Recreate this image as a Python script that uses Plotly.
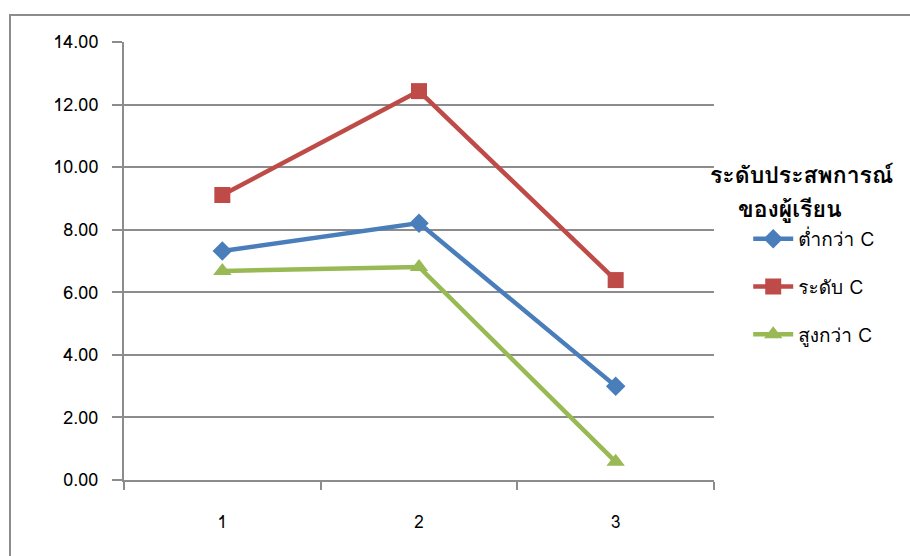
import plotly.graph_objects as go

categories = ["1", "2", "3"]
series_names = ["ต่ำกว่า C", "ระดับ C", "สูงกว่า C"]
below_c = [7.32, 8.21, 3.00]
level_c = [9.11, 12.43, 6.39]
above_c = [6.68, 6.81, 0.58]
y_ticks = [0, 2, 4, 6, 8, 10, 12, 14]
y_tick_text = [f"{v:.2f}" for v in y_ticks]
legend_title_lines = ["ระดับประสพการณ์", "ของผู้เรียน"]

FONT = "Tahoma, Loma, Garuda, Norasi, DejaVu Sans, sans-serif"

styles = [
    dict(color="#4A7EBB", symbol="diamond", size=15),
    dict(color="#BE4B48", symbol="square", size=16),
    dict(color="#98B954", symbol="triangle-up", size=16),
]

fig = go.Figure()
for i, (name, vals, st) in enumerate(zip(series_names, [below_c, level_c, above_c], styles)):
    fig.add_trace(go.Scatter(
        x=categories, y=vals, name=name, mode="lines+markers",
        line=dict(color=st["color"], width=4.5),
        marker=dict(color=st["color"], symbol=st["symbol"], size=st["size"]),
        legendgroup=f"g{i}",
    ))

fig.update_layout(
    width=910, height=556,
    margin=dict(l=124, r=196, t=42, b=76),
    paper_bgcolor="white", plot_bgcolor="white",
    font=dict(family=FONT, size=17, color="#000000"),
    legend=dict(
        x=1.058, xanchor="left", y=(480 - 287) / 438, yanchor="middle",
        font=dict(size=19, family=FONT),
        tracegroupgap=20,
        traceorder="grouped",
        bgcolor="rgba(0,0,0,0)",
        itemwidth=40,
    ),
    xaxis=dict(
        type="category", range=[-0.5, 2.5], tickson="boundaries", ticks="outside", ticklen=8,
        tickcolor="#8C8C8C", tickwidth=2,
        showline=True, linecolor="#8C8C8C", linewidth=2,
        showgrid=False, zeroline=False,
        tickfont=dict(size=17, family=FONT), ticklabelstandoff=26,
    ),
    yaxis=dict(
        range=[0, 14], tickvals=y_ticks, ticktext=y_tick_text,
        ticks="outside", ticklen=10, tickcolor="#8C8C8C", tickwidth=2,
        showline=True, linecolor="#8C8C8C", linewidth=2,
        showgrid=True, gridcolor="#8C8C8C", gridwidth=2, zeroline=False,
        tickfont=dict(size=18, family=FONT), ticklabelstandoff=10,
    ),
    showlegend=True,
)

for line_text, cx, cy in zip(legend_title_lines, [801, 790], [175, 209]):
    fig.add_annotation(
        xref="paper", yref="paper", x=(cx - 124) / 590, y=(480 - cy) / 438,
        xanchor="center", yanchor="middle", showarrow=False,
        text=f"<b>{line_text}</b>", align="center",
        font=dict(size=23, family=FONT, color="#000000"),
    )

# chart area border (outer frame)
fig.add_shape(type="rect", xref="paper", yref="paper",
              x0=-114 / 590, x1=1.5, y0=-0.5, y1=1 + 27 / 438,
              line=dict(color="#8C8C8C", width=2), fillcolor="rgba(0,0,0,0)", layer="below")

fig.write_html("out.html")
